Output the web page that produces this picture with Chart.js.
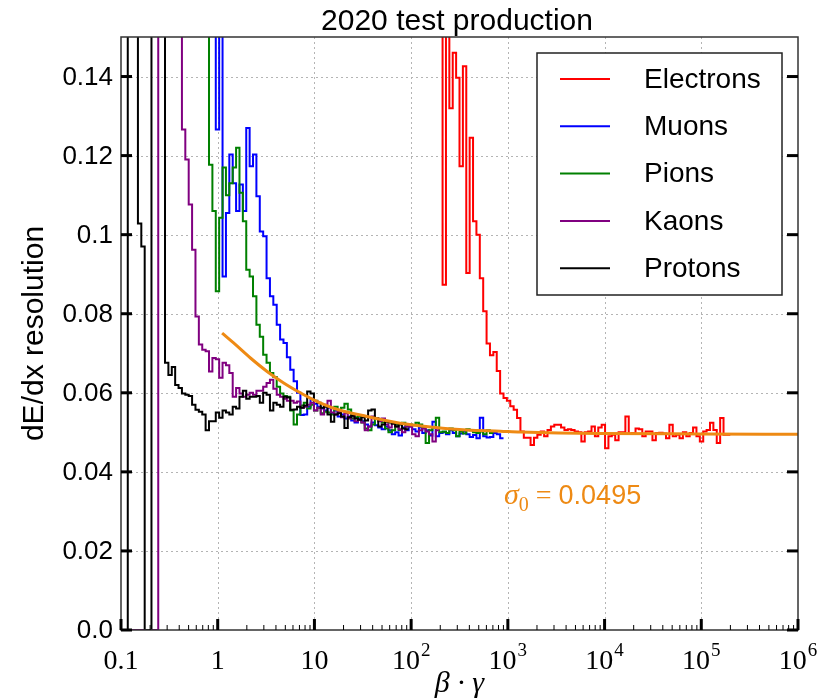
<!DOCTYPE html>
<html><head><meta charset="utf-8">
<script src="https://cdn.jsdelivr.net/npm/chart.js@4.4.0/dist/chart.umd.min.js"></script>
<style>html,body{margin:0;padding:0;background:#fff;}canvas{display:block;}</style>
</head><body>
<canvas id="c" width="827" height="699" style="width:827px;height:699px"></canvas>
<script>
// ---- binning (log10 of beta*gamma) ----
const LOG_MIN = -1;
const BIN_W = 0.035;

// ---- series (per-bin resolution values) ----
const seriesNames = ['Electrons', 'Muons', 'Pions', 'Kaons', 'Protons'];
const seriesColors = ['#ff0000', '#0000ff', '#008000', '#800080', '#000000'];

const electronsStart = 94;
const electrons = [0.3, 0.0873, 0.3, 0.132, 0.146, 0.1397, 0.1173, 0.1426, 0.0903, 0.1245,
  0.1034, 0.1, 0.089, 0.0806, 0.0725, 0.0695, 0.0703, 0.0655, 0.0598, 0.0587,
  0.058, 0.0566, 0.0557, 0.0536, 0.0502, 0.0486, 0.0486, 0.0468, 0.0486, 0.0494,
  0.0502, 0.049, 0.0506, 0.0515, 0.0519, 0.0519, 0.0512, 0.0506, 0.0508, 0.0506,
  0.0502, 0.05, 0.0477, 0.05, 0.0502, 0.0515, 0.049, 0.0512, 0.0519, 0.046,
  0.049, 0.0494, 0.048, 0.05, 0.05, 0.054, 0.0497, 0.0498, 0.051, 0.0508,
  0.049, 0.0502, 0.0502, 0.048, 0.0498, 0.0499, 0.0497, 0.0485, 0.0519, 0.049,
  0.0494, 0.0485, 0.05, 0.049, 0.0498, 0.0512, 0.049, 0.0477, 0.0502, 0.0506,
  0.0524, 0.0506, 0.0473, 0.0536, 0.0494, 0.0494];

const muonsStart = 26;
const muons = [0.3, 0.3, 0.1266, 0.3, 0.0894, 0.1055, 0.1203, 0.113, 0.106, 0.1127,
  0.106, 0.127, 0.1173, 0.1203, 0.1097, 0.1008, 0.0996, 0.089, 0.0844,
  0.0823, 0.0772, 0.0735, 0.0726, 0.069, 0.0658, 0.0629, 0.06, 0.0544, 0.0545,
  0.0565, 0.0585, 0.0572, 0.0565, 0.056, 0.0555, 0.0562, 0.0548, 0.0555, 0.054,
  0.0545, 0.0535, 0.054, 0.053, 0.0525, 0.0535, 0.0528, 0.052, 0.0515, 0.0525,
  0.0518, 0.0512, 0.0508, 0.0515, 0.0505, 0.0495, 0.05, 0.0492, 0.0512, 0.0505,
  0.0515, 0.0508, 0.0502, 0.0512, 0.0498, 0.0505, 0.0492, 0.0527, 0.049, 0.0498,
  0.05, 0.0495, 0.0505, 0.0498, 0.049, 0.0497, 0.0502, 0.0495, 0.0488, 0.0493,
  0.0485, 0.0537, 0.049, 0.0487, 0.0488, 0.0498, 0.0495, 0.0485];

const pionsStart = 24;
const pions = [0.3, 0.3, 0.1177, 0.106, 0.0857, 0.1043, 0.117, 0.11, 0.113, 0.117,
  0.122, 0.1106, 0.1034, 0.0911, 0.0894, 0.0844, 0.0772, 0.0742, 0.0696, 0.0676, 0.065,
  0.064, 0.0615, 0.0598, 0.0592, 0.059, 0.0555, 0.052, 0.0545, 0.0568, 0.0575,
  0.056, 0.057, 0.0555, 0.0562, 0.0548, 0.0552, 0.055, 0.0545, 0.0565, 0.0555,
  0.0562, 0.0572, 0.0558, 0.0535, 0.0538, 0.054, 0.0525, 0.051, 0.0505, 0.052,
  0.0535, 0.053, 0.0525, 0.051, 0.05, 0.0505, 0.052, 0.0506, 0.0524, 0.0515,
  0.052, 0.0518, 0.0524, 0.052, 0.0512, 0.0473, 0.0505, 0.0512, 0.0537, 0.05,
  0.0502, 0.0498, 0.051, 0.0505, 0.049, 0.0502, 0.0497, 0.0508, 0.0505, 0.05,
  0.0498, 0.0502, 0.0495, 0.0505, 0.0498];

const kaonsStart = 0;
const kaons = [0, 0, 0, 0, 0, 0, 0, 0, 0, 0, 0,
  0.3, 0.3, 0.3, 0.3, 0.3, 0.3, 0.3,
  0.1266, 0.119, 0.1076, 0.0962, 0.0793, 0.0722, 0.0709, 0.0705, 0.0654, 0.0688,
  0.0685, 0.0638, 0.0676, 0.067, 0.065, 0.059, 0.0612, 0.0598, 0.059, 0.0595,
  0.06, 0.0595, 0.0605, 0.0605, 0.0615, 0.0625, 0.0633,
  0.061, 0.0595, 0.059, 0.0585, 0.058, 0.058, 0.0575, 0.0578, 0.0562, 0.0565,
  0.057, 0.0575, 0.0555, 0.0562, 0.0545, 0.057, 0.058, 0.055, 0.0545, 0.0552,
  0.0538, 0.0548, 0.0535, 0.0542, 0.0528, 0.0532, 0.0525, 0.0505, 0.0515, 0.054,
  0.0535, 0.0528, 0.0535, 0.052, 0.0512, 0.0525, 0.0515, 0.0508, 0.05, 0.0515,
  0.0515, 0.0495, 0.049, 0.0505, 0.051, 0.0502, 0.0495, 0.0477, 0.0505];

const protonsStart = 0;
const protons = [0, 0, 0.3, 0.3, 0.3, 0.1028, 0.097, 0, 0, 0.3, 0.3, 0.3, 0.3,
  0.0676, 0.0645, 0.0665, 0.062, 0.0612, 0.0598, 0.0595, 0.0592, 0.057, 0.0557,
  0.0552, 0.0545, 0.0505, 0.0528, 0.0528, 0.055, 0.0537, 0.0555, 0.055, 0.0545,
  0.0565, 0.056, 0.059, 0.0605, 0.0585, 0.059, 0.059, 0.0592, 0.0575, 0.06, 0.0595, 0.0555,
  0.0575, 0.057, 0.0565, 0.059, 0.0588, 0.0557, 0.0558, 0.0565, 0.0562, 0.0568,
  0.0603, 0.0598, 0.058, 0.0575, 0.0562, 0.0565, 0.0545, 0.0527, 0.0545, 0.0548,
  0.054, 0.0511, 0.0538, 0.0542, 0.0535, 0.0532, 0.0538, 0.053, 0.0555, 0.0558,
  0.0535, 0.0515, 0.052, 0.0527, 0.0525, 0.0522, 0.0515, 0.052, 0.051, 0.0508];

// ---- fit curve ----
const fitX = [1.11, 1.46, 2.18, 3.24, 4.81, 7.14, 9.8, 15.8, 34.9, 77, 170, 377, 833, 1340, 9000, 97000, 1e6];
const fitY = [0.0751, 0.0726, 0.0688, 0.0654, 0.0625, 0.06, 0.0582, 0.0561, 0.054, 0.0523, 0.0513, 0.0506, 0.0503, 0.0501, 0.0497, 0.0496, 0.0495];
const fitLabel = '0.0495';

// ---- axes ----
const xTicks = [0.1, 1, 10, 100, 1e3, 1e4, 1e5, 1e6];
const xTickLabels = ['0.1', '1', '10', '10^2', '10^3', '10^4', '10^5', '10^6'];
const yTicks = [0, 0.02, 0.04, 0.06, 0.08, 0.1, 0.12, 0.14];
const yTickLabels = ['0.0', '0.02', '0.04', '0.06', '0.08', '0.1', '0.12', '0.14'];
const titleText = '2020 test production';
const yTitle = 'dE/dx resolution';

function histPoints(start, vals) {
  const pts = vals.map((v, k) => ({ x: Math.pow(10, LOG_MIN + (start + k) * BIN_W), y: v }));
  pts.push({ x: Math.pow(10, LOG_MIN + (start + vals.length) * BIN_W), y: vals[vals.length - 1] });
  return pts;
}

const seriesData = [[electronsStart, electrons], [muonsStart, muons], [pionsStart, pions], [kaonsStart, kaons], [protonsStart, protons]];
const FIT_COLOR = 'rgb(238,138,20)';

const datasets = seriesNames.map((n, i) => ({
  label: n, data: histPoints(seriesData[i][0], seriesData[i][1]),
  borderColor: seriesColors[i], backgroundColor: seriesColors[i],
  borderWidth: 2, pointRadius: 0, stepped: 'before', fill: false, order: 5 - i,
  borderJoinStyle: 'miter', borderCapStyle: 'butt'
}));
datasets.push({
  label: 'fit', data: fitX.map((x, k) => ({ x: x, y: fitY[k] })),
  borderColor: FIT_COLOR, borderWidth: 3, pointRadius: 0, fill: false,
  cubicInterpolationMode: 'monotone', order: 0
});

const FS = '"Liberation Sans", Arial, sans-serif';
const FSERIF = '"Liberation Serif", "Times New Roman", serif';

const mplPlugin = {
  id: 'mpl',
  beforeDatasetsDraw(chart) {
    const { ctx, chartArea: a, scales: { x, y } } = chart;
    ctx.save();
    ctx.strokeStyle = '#b4b4b4';
    ctx.lineWidth = 1;
    ctx.setLineDash([2, 3]);
    xTicks.forEach(v => {
      const px = Math.round(x.getPixelForValue(v)) + 0.5;
      if (px < a.left + 2 || px > a.right - 2) return;
      ctx.beginPath(); ctx.moveTo(px, a.top); ctx.lineTo(px, a.bottom); ctx.stroke();
    });
    yTicks.forEach(v => {
      const py = Math.round(y.getPixelForValue(v)) + 0.5;
      if (py > a.bottom - 2 || py < a.top + 2) return;
      ctx.beginPath(); ctx.moveTo(a.left, py); ctx.lineTo(a.right, py); ctx.stroke();
    });
    ctx.restore();
  },
  afterDatasetsDraw(chart) {
    const { ctx, chartArea: a, scales: { x, y } } = chart;
    ctx.save();
    // frame
    ctx.strokeStyle = '#333';
    ctx.lineWidth = 1.5;
    ctx.strokeRect(a.left, a.top, a.right - a.left, a.bottom - a.top);
    // minor x ticks
    ctx.strokeStyle = '#000';
    ctx.lineWidth = 1;
    for (let d = -1; d < 6; d++) {
      for (let k = 2; k <= 9; k++) {
        const px = x.getPixelForValue(k * Math.pow(10, d));
        ctx.beginPath(); ctx.moveTo(px, a.bottom); ctx.lineTo(px, a.bottom - 5); ctx.stroke();
      }
    }
    // major ticks
    ctx.lineWidth = 3;
    xTicks.forEach(v => {
      const px = x.getPixelForValue(v);
      ctx.beginPath(); ctx.moveTo(px, a.bottom); ctx.lineTo(px, a.bottom - 11); ctx.stroke();
    });
    yTicks.forEach(v => {
      const py = y.getPixelForValue(v);
      ctx.beginPath(); ctx.moveTo(a.left, py); ctx.lineTo(a.left + 11, py); ctx.stroke();
      ctx.beginPath(); ctx.moveTo(a.right, py); ctx.lineTo(a.right - 11, py); ctx.stroke();
    });
    // y tick labels
    ctx.fillStyle = '#000';
    ctx.font = '26px ' + FS;
    ctx.textAlign = 'right';
    ctx.textBaseline = 'middle';
    yTicks.forEach((v, i) => {
      ctx.fillText(yTickLabels[i], a.left - 8, y.getPixelForValue(v) + 1);
    });
    // x tick labels (base + superscript)
    ctx.textBaseline = 'alphabetic';
    ctx.textAlign = 'left';
    xTicks.forEach((v, i) => {
      const parts = xTickLabels[i].split('^');
      ctx.font = '28px ' + FSERIF;
      const w1 = ctx.measureText(parts[0]).width;
      let w2 = 0;
      if (parts[1]) { ctx.font = '19px ' + FSERIF; w2 = ctx.measureText(parts[1]).width + 1; }
      const px = x.getPixelForValue(v);
      const sx = px - (w1 + w2) / 2;
      ctx.font = '28px ' + FSERIF;
      ctx.fillText(parts[0], sx, 669);
      if (parts[1]) { ctx.font = '19px ' + FSERIF; ctx.fillText(parts[1], sx + w1 + 1, 656); }
    });
    // x axis title
    ctx.font = 'italic 30px ' + FSERIF;
    ctx.textAlign = 'center';
    ctx.fillText('\u03B2 \u00B7 \u03B3', (a.left + a.right) / 2, 692);
    // y axis title
    ctx.save();
    ctx.translate(35, (a.top + a.bottom) / 2);
    ctx.rotate(-Math.PI / 2);
    ctx.font = '30px ' + FS;
    ctx.textAlign = 'center';
    ctx.textBaseline = 'middle';
    ctx.fillText(yTitle, 0, 0);
    ctx.restore();
    // title
    ctx.font = '30px ' + FS;
    ctx.textAlign = 'center';
    ctx.textBaseline = 'alphabetic';
    ctx.fillText(titleText, 457, 30);
    // fit annotation
    ctx.fillStyle = FIT_COLOR;
    ctx.textAlign = 'left';
    let tx = 504;
    const by = 504;
    ctx.font = 'italic 30px ' + FSERIF;
    ctx.fillText('\u03C3', tx, by); tx += ctx.measureText('\u03C3').width;
    ctx.font = '20px ' + FSERIF;
    ctx.fillText('0', tx, by + 7); tx += ctx.measureText('0').width + 7;
    ctx.font = '28px ' + FSERIF;
    ctx.fillText('=', tx, by); tx += ctx.measureText('=').width + 7;
    ctx.font = '27px ' + FS;
    ctx.fillText(fitLabel, tx, by);
    // legend
    const lx = 537, ly = 53, lw = 245, lh = 242;
    ctx.fillStyle = '#fff';
    ctx.fillRect(lx, ly, lw, lh);
    ctx.strokeStyle = '#222';
    ctx.lineWidth = 1.5;
    ctx.strokeRect(lx, ly, lw, lh);
    ctx.font = '28px ' + FS;
    ctx.textBaseline = 'middle';
    seriesNames.forEach((n, i) => {
      const yy = 79 + i * 47.3;
      ctx.strokeStyle = seriesColors[i];
      ctx.lineWidth = 2;
      ctx.beginPath(); ctx.moveTo(560, yy); ctx.lineTo(610, yy); ctx.stroke();
      ctx.fillStyle = '#000';
      ctx.fillText(n, 644, yy + 1);
    });
    ctx.restore();
  }
};

new Chart(document.getElementById('c'), {
  type: 'line',
  data: { datasets: datasets },
  options: {
    responsive: false, animation: false, events: [],
    layout: { padding: { top: 37, right: 29, left: 0, bottom: 0 } },
    plugins: { legend: { display: false }, title: { display: false }, tooltip: { enabled: false } },
    scales: {
      x: {
        type: 'logarithmic', min: 0.1, max: 1e6,
        grid: { display: false }, border: { display: false }, ticks: { display: false },
        afterBuildTicks: s => { s.ticks = xTicks.map(v => ({ value: v })); },
        afterFit: s => { s.height = 69; }
      },
      y: {
        type: 'linear', min: 0, max: 0.15,
        grid: { display: false }, border: { display: false }, ticks: { display: false },
        afterBuildTicks: s => { s.ticks = yTicks.map(v => ({ value: v })); },
        afterFit: s => { s.width = 121; }
      }
    }
  },
  plugins: [mplPlugin]
});
</script>
</body></html>
